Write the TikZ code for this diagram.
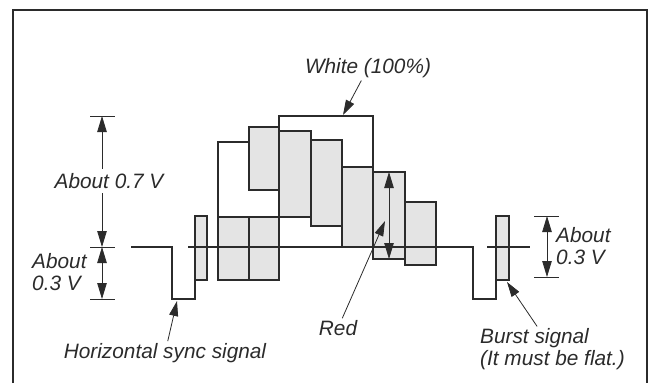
\documentclass[tikz,border=0pt]{standalone}
\usepackage{fontspec}
\setmainfont{Liberation Sans}
\usetikzlibrary{arrows.meta}
\definecolor{ln}{HTML}{2B2B2B}
\definecolor{gr}{HTML}{E4E4E4}
\begin{document}
\begin{tikzpicture}[x=1pt,y=-1pt,
  wire/.style={draw=ln,line width=1.1pt},
  thin/.style={draw=ln,line width=0.8pt},
  bar/.style={draw=ln,fill=gr,line width=1.1pt},
  lbl/.style={font=\fontsize{20.8}{22}\selectfont\itshape,text=ln,inner sep=0pt,align=left},
  tip/.style={-{Triangle[length=15pt,width=9pt]}},
  dtip/.style={{Triangle[length=16pt,width=9.5pt]}-{Triangle[length=16pt,width=9.5pt]}},
  tick/.style={draw=ln,line width=0.9pt}]
\useasboundingbox (0,0) rectangle (653,383);
% frame
\draw[wire] (13,383) -- (13,10) -- (647,10) -- (647,383);
% white (100%) outline
\draw[wire] (218,247) -- (218,142) -- (279,142) -- (279,116) -- (373,116) -- (373,167);
% colour bars
\draw[bar] (218,217) rectangle (249,280);
\draw[bar] (249,217) rectangle (279,280);
\draw[bar] (249,127) rectangle (279,190);
\draw[bar] (279,131) rectangle (311,217);
\draw[bar] (311,140) rectangle (342,226);
\draw[bar] (342,167) rectangle (373,247);
\draw[bar] (373,172) rectangle (405,259);
\draw[bar] (405,202) rectangle (436,265);
% burst signals
\draw[bar] (195,216) rectangle (207,280);
\draw[bar] (496,216) rectangle (509,280);
% waveform
\draw[wire] (131,247) -- (172,247) -- (172,299) -- (195,299) -- (195,280);
\draw[wire] (188,247) -- (473,247) -- (473,299) -- (496,299) -- (496,280);
\draw[wire] (487,247) -- (530,247);
% red amplitude
\draw[thin,dtip] (389,172) -- (389,259);
% left dimensions
\draw[tick] (90,116) -- (115,116);
\draw[tick] (90,247) -- (115,247);
\draw[tick] (90,299) -- (115,299);
\draw[thin,dtip] (102,116) -- (102,247);
\draw[thin,dtip] (102,247) -- (102,299);
\node[lbl,fill=white,inner ysep=4pt] (v07) at (109,181) {About 0.7 V};
\node[lbl,anchor=west] (v03l) at (32,272) {About\\0.3 V};
% right dimension
\draw[tick] (534,216) -- (559,216);
\draw[tick] (534,277) -- (559,277);
\draw[thin,dtip] (547,216) -- (547,277);
\node[lbl,anchor=west] (v03r) at (556,246) {About\\0.3 V};
% labels and leaders
\node[lbl] (white) at (368,68) {White (100\%)};
\coordinate (whitetip) at (343,115);
\draw[thin,tip,shorten <=3pt] (white) -- (whitetip);
\node[lbl] (red) at (338,328) {Red};
\coordinate (redtip) at (385,221);
\draw[thin,tip,shorten <=2pt] (red) -- (redtip);
\node[lbl] (hsync) at (165,353) {Horizontal sync signal};
\coordinate (hsynctip) at (177,301);
\draw[thin,tip,shorten <=2pt] (hsync) -- (hsynctip);
\node[lbl,anchor=west] (burst) at (480,349) {Burst signal\\(It must be flat.)};
\coordinate (bursttip) at (507,282);
\draw[thin,tip,shorten <=2pt] (burst) -- (bursttip);
\end{tikzpicture}
\end{document}
